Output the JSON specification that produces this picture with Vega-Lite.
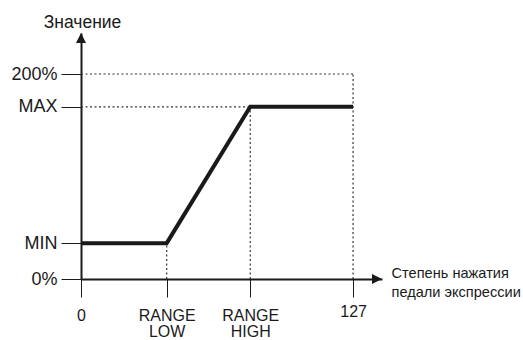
{
  "$schema": "https://vega.github.io/schema/vega-lite/v6.json",
  "width": 301,
  "height": 246,
  "autosize": {"type": "none"},
  "padding": {"left": 81, "top": 33, "right": 141, "bottom": 61},
  "background": "white",
  "config": {
    "view": {"stroke": null},
    "font": "Liberation Sans"
  },
  "layer": [
    {
      "data": {"values": [
        {"x": 0, "y": 200, "x2": 127, "y2": 200},
        {"x": 0, "y": 168, "x2": 79, "y2": 168},
        {"x": 127, "y": 0, "x2": 127, "y2": 200},
        {"x": 79, "y": 0, "x2": 79, "y2": 168},
        {"x": 40, "y": 0, "x2": 40, "y2": 35}
      ]},
      "mark": {"type": "rule", "stroke": "#333", "strokeWidth": 1.2, "strokeDash": [2, 2.5]},
      "encoding": {
        "x": {
          "field": "x", "type": "quantitative",
          "scale": {"domain": [0, 140.5], "nice": false, "zero": false},
          "axis": {
            "values": [0, 40, 79, 127],
            "labelExpr": "datum.value == 0 ? '0' : datum.value == 40 ? ['RANGE', 'LOW'] : datum.value == 79 ? ['RANGE', 'HIGH'] : '127'",
            "grid": false,
            "domainColor": "#1a1a1a", "domainWidth": 2,
            "tickColor": "#1a1a1a", "tickWidth": 1, "tickSize": 18,
            "labelColor": "#1a1a1a", "labelFontSize": 16,
            "labelPadding": {"condition": {"test": "datum.value == 127", "value": 6}, "value": 10},
            "labelLineHeight": 16, "labelBaseline": "top", "labelFlush": false, "labelOverlap": false,
            "title": ["Степень нажатия", "педали экспрессии"],
            "titleFontSize": 14.6, "titleFontWeight": "normal", "titleColor": "#1a1a1a",
            "titleAlign": "left", "titleAnchor": null, "titleBaseline": "top",
            "titleX": 310, "titleY": -14, "titleLineHeight": 19
          }
        },
        "x2": {"field": "x2"},
        "y": {
          "field": "y", "type": "quantitative",
          "scale": {"domain": [0, 240], "nice": false, "zero": false},
          "axis": {
            "values": [0, 35, 168, 200],
            "labelExpr": "datum.value == 0 ? '0%' : datum.value == 35 ? 'MIN' : datum.value == 168 ? 'MAX' : '200%'",
            "grid": false,
            "domainColor": "#1a1a1a", "domainWidth": 2,
            "tickColor": "#1a1a1a", "tickWidth": 1, "tickSize": 20,
            "labelColor": "#1a1a1a", "labelFontSize": 18, "labelPadding": 4,
            "labelBaseline": "middle", "labelFlush": false, "labelOverlap": false,
            "title": "Значение",
            "titleFontSize": 17.5, "titleFontWeight": "normal", "titleColor": "#1a1a1a",
            "titleAngle": 0, "titleAlign": "center", "titleAnchor": null, "titleBaseline": "alphabetic",
            "titleX": 1, "titleY": -6
          }
        },
        "y2": {"field": "y2"}
      }
    },
    {
      "data": {"values": [
        {"x": 0, "y": 35},
        {"x": 40, "y": 35},
        {"x": 79, "y": 168},
        {"x": 127, "y": 168}
      ]},
      "mark": {"type": "line", "stroke": "#1a1a1a", "strokeWidth": 4, "strokeJoin": "miter", "strokeCap": "butt"},
      "encoding": {
        "x": {"field": "x", "type": "quantitative"},
        "y": {"field": "y", "type": "quantitative"}
      }
    },
    {
      "data": {"values": [{"x": 0, "y": 240}]},
      "mark": {"type": "point", "shape": "M0,0L-1,2L1,2Z", "filled": true, "size": 100, "fill": "#1a1a1a", "stroke": null, "opacity": 1},
      "encoding": {
        "x": {"field": "x", "type": "quantitative"},
        "y": {"field": "y", "type": "quantitative"}
      }
    },
    {
      "data": {"values": [{"x": 140.5, "y": 0}]},
      "mark": {"type": "point", "shape": "M0,0L-2,-1L-2,1Z", "filled": true, "size": 100, "fill": "#1a1a1a", "stroke": null, "opacity": 1},
      "encoding": {
        "x": {"field": "x", "type": "quantitative"},
        "y": {"field": "y", "type": "quantitative"}
      }
    }
  ]
}
